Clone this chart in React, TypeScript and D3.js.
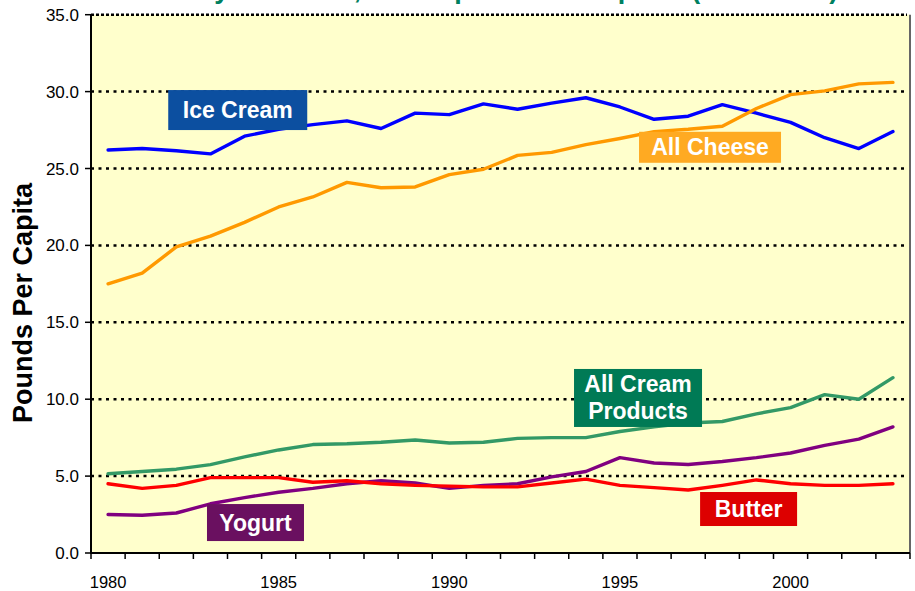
import * as d3 from 'd3';

const years = d3.range(1980, 2004);

const iceCream = [26.2, 26.3, 26.15, 25.95, 27.1, 27.55, 27.85, 28.1, 27.6, 28.6, 28.5, 29.2, 28.85, 29.25, 29.6, 29.0, 28.2, 28.4, 29.15, 28.6, 28.0, 27.0, 26.3, 27.4];
const allCheese = [17.5, 18.2, 19.9, 20.6, 21.5, 22.5, 23.15, 24.1, 23.75, 23.8, 24.6, 24.95, 25.85, 26.05, 26.55, 26.95, 27.4, 27.55, 27.75, 28.9, 29.8, 30.05, 30.5, 30.6];
const creamProducts = [5.15, 5.3, 5.45, 5.75, 6.25, 6.7, 7.05, 7.1, 7.2, 7.35, 7.15, 7.2, 7.45, 7.5, 7.5, 7.9, 8.2, 8.45, 8.55, 9.05, 9.45, 10.3, 10.0, 11.4];
const yogurt = [2.5, 2.45, 2.6, 3.2, 3.6, 3.95, 4.2, 4.5, 4.7, 4.55, 4.2, 4.4, 4.5, 4.95, 5.3, 6.2, 5.85, 5.75, 5.95, 6.2, 6.5, 7.0, 7.4, 8.2];
const butter = [4.5, 4.2, 4.4, 4.9, 4.9, 4.9, 4.6, 4.7, 4.5, 4.4, 4.35, 4.3, 4.3, 4.55, 4.8, 4.4, 4.25, 4.1, 4.4, 4.75, 4.5, 4.4, 4.4, 4.5];

const yTicks = [0, 5, 10, 15, 20, 25, 30, 35];
const xLabelYears = [1980, 1985, 1990, 1995, 2000];

const series = [
  { name: 'Ice Cream', values: iceCream, color: '#0000ff' },
  { name: 'All Cheese', values: allCheese, color: '#ff9900' },
  { name: 'All Cream Products', values: creamProducts, color: '#339966' },
  { name: 'Yogurt', values: yogurt, color: '#800080' },
  { name: 'Butter', values: butter, color: '#ff0000' },
];

// label boxes: anchor in data units (year, pounds), size in px
const labels = [
  { lines: ['Ice Cream'], year: 1983.8, value: 28.8, w: 139, h: 40, fill: '#0c4fa0' },
  { lines: ['All Cheese'], year: 1997.64, value: 26.38, w: 142, h: 31, fill: '#ffaa22' },
  { lines: ['All Cream', 'Products'], year: 1995.53, value: 10.08, w: 128, h: 58, fill: '#007a55' },
  { lines: ['Yogurt'], year: 1984.32, value: 1.98, w: 97, h: 37, fill: '#6a1060' },
  { lines: ['Butter'], year: 1998.77, value: 2.86, w: 97, h: 34, fill: '#dd0000' },
];

const W = 915;
const H = 591;
const left = 91;
const right = 910;
const top = 14.7;
const bottom = 553;

export default function App() {
  const x = d3.scaleBand<number>().domain(years).range([left, right]).padding(0);
  const bw = x.bandwidth();
  const xc = (yr: number) => (x(years[0]) as number) + (yr - years[0]) * bw + bw / 2;
  const y = d3.scaleLinear().domain([0, 35]).range([bottom, top]);

  const line = d3
    .line<number>()
    .x((_, i) => xc(years[i]))
    .y((d) => y(d));

  const font = 'Arial, "Liberation Sans", sans-serif';
  const tickEdges = d3.range(years.length + 1).map((i) => left + i * bw);

  return (
    <svg
      width={W}
      height={H}
      style={{ position: 'absolute', left: 0, top: 0, background: '#fff' }}
      fontFamily={font}
    >
      {/* title sits mostly above the frame, as in the source image */}
      <text x={500} y={-2.5} textAnchor="middle" fontSize={27} fontWeight="bold" fill="#008060">
        Dairy Products, Per Capita Consumption (1980-2003)
      </text>

      <rect x={left} y={top} width={right - left} height={bottom - top} fill="#ffffcc" />
      <line x1={right} x2={right} y1={top} y2={bottom} stroke="#666" strokeWidth={2} />

      {yTicks.filter((t) => t > 0).map((t) => (
        <line
          key={t}
          x1={left}
          x2={right - 3}
          y1={y(t)}
          y2={y(t)}
          stroke="#000"
          strokeWidth={2.5}
          strokeDasharray={t === 35 ? '3 2' : '3 4.5'}
        />
      ))}

      {series.map((s) => (
        <path
          key={s.name}
          d={line(s.values) || ''}
          fill="none"
          stroke={s.color}
          strokeWidth={3.4}
          strokeLinejoin="round"
          strokeLinecap="round"
        />
      ))}

      <line x1={left} x2={left} y1={top} y2={bottom + 1} stroke="#000" strokeWidth={2} />
      <line x1={left - 1} x2={right} y1={bottom} y2={bottom} stroke="#000" strokeWidth={2} />

      {yTicks.map((t) => (
        <g key={t}>
          <line x1={left - 6} x2={left} y1={y(t)} y2={y(t)} stroke="#000" strokeWidth={1.5} />
          <text x={79} y={y(t) + 6} textAnchor="end" fontSize={17} fill="#000">
            {t.toFixed(1)}
          </text>
        </g>
      ))}

      {tickEdges.map((tx, i) => (
        <line key={i} x1={tx} x2={tx} y1={bottom} y2={bottom + 6} stroke="#000" strokeWidth={1.5} />
      ))}
      {xLabelYears.map((yr) => (
        <text key={yr} x={xc(yr)} y={588} textAnchor="middle" fontSize={16.5} fill="#000">
          {yr}
        </text>
      ))}

      <text
        transform={`translate(32,303) rotate(-90)`}
        textAnchor="middle"
        fontSize={27}
        fontWeight="bold"
        fill="#000"
      >
        Pounds Per Capita
      </text>

      {labels.map((l) => {
        const cx = xc(l.year);
        const cy = y(l.value);
        const n = l.lines.length;
        return (
          <g key={l.lines.join(' ')}>
            <rect x={cx - l.w / 2} y={cy - l.h / 2} width={l.w} height={l.h} fill={l.fill} />
            {l.lines.map((t, i) => (
              <text
                key={t}
                x={cx}
                y={cy + (i - (n - 1) / 2) * 27 + 8}
                textAnchor="middle"
                fontSize={23}
                fontWeight="bold"
                fill="#fff"
              >
                {t}
              </text>
            ))}
          </g>
        );
      })}
    </svg>
  );
}
